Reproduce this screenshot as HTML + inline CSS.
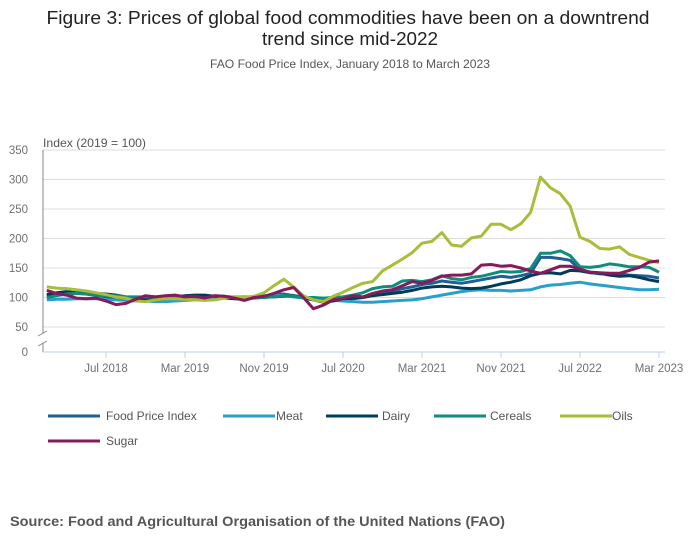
<!DOCTYPE html>
<html><head><meta charset="utf-8">
<style>
body{margin:0;background:#fff;font-family:"Liberation Sans",sans-serif;}
#wrap{position:relative;width:700px;height:549px;overflow:hidden;}
</style></head>
<body>
<div id="wrap">
<svg id="svg" width="700" height="549" xmlns="http://www.w3.org/2000/svg" font-family="Liberation Sans, sans-serif">
<text x="348" y="24" text-anchor="middle" font-size="18.5" fill="#222" textLength="603" lengthAdjust="spacingAndGlyphs">Figure 3: Prices of global food commodities have been on a downtrend</text>
<text x="350" y="45" text-anchor="middle" font-size="18.5" fill="#222" textLength="176" lengthAdjust="spacingAndGlyphs">trend since mid-2022</text>
<text x="350" y="68" text-anchor="middle" font-size="12" fill="#555" textLength="280" lengthAdjust="spacingAndGlyphs">FAO Food Price Index, January 2018 to March 2023</text>
<text x="43" y="147" font-size="12" fill="#555" textLength="103" lengthAdjust="spacingAndGlyphs">Index (2019 = 100)</text>
<g id="grid"></g>
<g id="series"></g>
<g id="legend"></g>
<text x="10" y="526" font-size="13.5" font-weight="bold" fill="#555" textLength="495" lengthAdjust="spacingAndGlyphs">Source: Food and Agricultural Organisation of the United Nations (FAO)</text>
</svg>
</div>
<script>
const yTicks=[0,50,100,150,200,250,300,350];
const xTickLabels=["Jul 2018","Mar 2019","Nov 2019","Jul 2020","Mar 2021","Nov 2021","Jul 2022","Mar 2023"];
const xTickIndex=[6,14,22,30,38,46,54,62];
const seriesNames=["Food Price Index","Meat","Dairy","Cereals","Oils","Sugar"];
const fpi=[103,105,105,107,106,104,101,100,99,98,97,98, 99,101,100,101,102,101,100,99,99,100,102,105, 106,103,99,96,94,95,97,98,100,104,107,110, 115,118,122,124,128,126,124,127,130,133,136,134, 137,141,168,168,166,163,147,143,140,140,140,138, 137,136,133];
const meat=[96,97,97,98,98,98,96,96,95,94,94,93, 93,94,95,96,98,99,101,101,101,101,103,104, 103,101,99,97,95,95,94,93,92,92,93,94, 95,96,98,101,104,107,110,112,113,112,112,111, 112,113,118,121,122,124,126,123,121,119,117,115, 113,113,114];
const dairy=[105,108,110,108,108,107,106,104,101,99,97,96, 98,101,103,104,104,102,99,98,97,100,101,101, 102,103,101,96,92,94,98,99,100,103,105,107, 109,112,116,118,119,118,116,115,116,119,123,126, 130,137,141,142,140,146,145,142,141,138,136,137, 134,130,127];
const cereals=[100,103,106,107,106,103,103,103,101,101,101,101, 101,101,100,99,99,103,102,100,98,99,100,101, 103,102,100,100,99,100,101,104,108,115,118,119, 128,129,127,130,137,132,130,134,136,140,144,143, 144,149,175,175,179,171,152,151,153,157,155,152, 152,151,143];
const oils=[118,116,115,113,111,108,105,101,99,94,93,96, 98,98,97,96,95,96,99,101,100,102,108,120, 131,118,103,96,93,102,109,117,124,127,145,155, 165,176,192,195,210,189,187,201,204,224,224,215, 225,244,304,286,276,255,202,195,183,182,186,173, 168,163,159];
const sugar=[112,107,104,99,98,99,94,88,90,97,103,101, 103,104,101,102,99,103,102,99,95,100,102,107, 113,117,100,81,87,96,98,103,101,107,111,113, 120,127,124,129,136,138,138,140,155,156,153,154, 150,145,141,147,153,153,148,143,142,141,141,146, 151,160,162];
const colors=["#206095","#27a0cc","#003c57","#118c7b","#a8bd3a","#871a5b"];
const NS="http://www.w3.org/2000/svg";
const X0=43,X1=665;
function xs(i){return 46.75+i*9.875;}
function ys(v){return v===0?352:297.5-(v-100)*0.59;}
const grid=document.getElementById('grid');
yTicks.forEach(t=>{
  const y=ys(t);
  if(t>0){const l=document.createElementNS(NS,'line');
  l.setAttribute('x1',X0);l.setAttribute('x2',X1);l.setAttribute('y1',y);l.setAttribute('y2',y);
  l.setAttribute('stroke','#dcdcdc');l.setAttribute('stroke-width','1');
  
  
  grid.appendChild(l);}
  const tx=document.createElementNS(NS,'text');
  tx.setAttribute('x',28);tx.setAttribute('y',y+4);tx.setAttribute('text-anchor','end');
  tx.setAttribute('font-size','11.5');tx.setAttribute('fill','#707070');tx.textContent=t;
  
  
  grid.appendChild(tx);
});
function mk(tag,attrs,name){const e=document.createElementNS(NS,tag);for(const k in attrs)e.setAttribute(k,attrs[k]);
  
  
  return e;}
grid.appendChild(mk('line',{x1:X0,x2:X0,y1:150,y2:333,stroke:'#888','stroke-width':1},'y-axis-line'));
grid.appendChild(mk('line',{x1:X0,x2:X0,y1:343,y2:352,stroke:'#888','stroke-width':1},'y-axis-line-lower'));
grid.appendChild(mk('line',{x1:38,x2:47,y1:336,y2:331,stroke:'#888','stroke-width':1},'axis-break-mark'));
grid.appendChild(mk('line',{x1:38,x2:47,y1:346,y2:341,stroke:'#888','stroke-width':1},'axis-break-mark'));
grid.appendChild(mk('line',{x1:X0,x2:X1,y1:352,y2:352,stroke:'#bfd0e0','stroke-width':1},'x-axis-line'));
xTickLabels.forEach((lab,k)=>{
  const x=xs(xTickIndex[k]);
  grid.appendChild(mk('line',{x1:x,x2:x,y1:352,y2:358,stroke:'#bfd0e0','stroke-width':1},'x-tick'));
  const t=mk('text',{x:x,y:372,'text-anchor':'middle','font-size':'11.5',fill:'#707070'},'x-tick-label');
  t.textContent=lab;grid.appendChild(t);
});
const data=[fpi,meat,dairy,cereals,oils,sugar];
const sg=document.getElementById('series');
data.forEach((arr,s)=>{
  const d=arr.map((v,i)=>(i?'L':'M')+xs(i).toFixed(1)+' '+ys(v).toFixed(1)).join(' ');
  const p=document.createElementNS(NS,'path');
  p.setAttribute('d',d);p.setAttribute('fill','none');p.setAttribute('stroke',colors[s]);
  p.setAttribute('stroke-width','3');p.setAttribute('stroke-linejoin','round');
  
  
  sg.appendChild(p);
});
const lg=document.getElementById('legend');
const lpos=[[48,106,416],[223,276,416],[326,382,416],[434,490,416],[560,612,416],[48,106,441]];
seriesNames.forEach((n,s)=>{
  const [a,b,y]=lpos[s];
  const l=document.createElementNS(NS,'line');
  l.setAttribute('x1',a);l.setAttribute('x2',a+52);l.setAttribute('y1',y);l.setAttribute('y2',y);
  l.setAttribute('stroke',colors[s]);l.setAttribute('stroke-width','3');
  
  
  lg.appendChild(l);
  const t=document.createElementNS(NS,'text');
  t.setAttribute('x',b);t.setAttribute('y',y+4);t.setAttribute('font-size','12');t.setAttribute('fill','#555');
  t.textContent=n;
  
  
  lg.appendChild(t);
});
</script>
</body></html>
